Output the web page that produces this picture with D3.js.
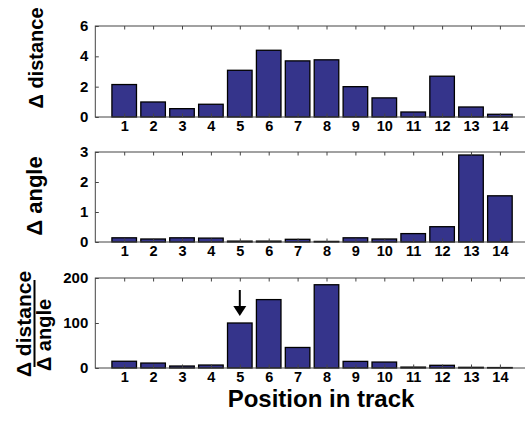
<!DOCTYPE html>
<html>
<head>
<meta charset="utf-8">
<script src="https://cdn.jsdelivr.net/npm/d3@7"></script>
<style>
  body { margin: 0; background: #fff; }
  text { font-family: Arial, "Liberation Sans", Helvetica, sans-serif; font-weight: bold; fill: #000; }
</style>
</head>
<body>
<svg width="525" height="423"></svg>
<script>
// positions along the track
const positions = [1, 2, 3, 4, 5, 6, 7, 8, 9, 10, 11, 12, 13, 14];

// panel values
const deltaDistance = [2.14, 0.99, 0.55, 0.84, 3.08, 4.4, 3.7, 3.77, 2.0, 1.26, 0.33, 2.69, 0.66, 0.18];
const deltaAngle = [0.14, 0.10, 0.14, 0.13, 0.03, 0.03, 0.09, 0.02, 0.14, 0.10, 0.28, 0.51, 2.9, 1.54];
const ratio = [15, 11, 4.4, 6.6, 100, 152, 45.6, 185, 14.7, 13.2, 2, 6, 1.5, 1];

// y tick labels per panel
const distanceTicks = [0, 2, 4, 6];
const angleTicks = [0, 1, 2, 3];
const ratioTicks = [0, 100, 200];

// bar the arrow points at (bottom panel)
const arrowAt = 5;

const barColor = "#35348b";
const axisColor = "#444";

var svg = d3.select("svg");

// x scale shared by all panels, box runs past the right edge of the window
var x = d3.scaleLinear().domain([0, 15]).range([95.3, 528.8]);
const barW = 0.85 * (x(1) - x(0));

const panels = [
  { values: deltaDistance, ticks: distanceTicks, top: 26, bottom: 117 },
  { values: deltaAngle, ticks: angleTicks, top: 152, bottom: 242 },
  { values: ratio, ticks: ratioTicks, top: 278, bottom: 368 }
];

panels.forEach(function (p) {
  var y = d3.scaleLinear()
      .domain([0, d3.max(p.ticks)])
      .range([p.bottom, p.top]);
  p.y = y;

  var g = svg.append("g").attr("class", "panel");

  // bars
  g.selectAll("rect")
    .data(p.values)
    .enter().append("rect")
    .attr("x", (d, i) => x(positions[i]) - barW / 2)
    .attr("y", d => y(d))
    .attr("width", barW)
    .attr("height", d => y(0) - y(d))
    .attr("fill", barColor)
    .attr("stroke", "#000")
    .attr("stroke-width", 1.3);

  // frame
  g.append("rect")
    .attr("x", x(0))
    .attr("y", p.top)
    .attr("width", x(15) - x(0))
    .attr("height", p.bottom - p.top)
    .attr("fill", "none")
    .attr("stroke", axisColor)
    .attr("stroke-width", 1);

  // inward ticks, top and bottom
  var topAxis = d3.axisBottom(x).tickValues(positions).tickSize(3.5).tickFormat("");
  g.append("g").attr("transform", "translate(0," + p.top + ")").call(topAxis)
    .call(s => s.select(".domain").remove())
    .selectAll("line").attr("stroke", axisColor);

  var bottomAxis = d3.axisBottom(x).tickValues(positions).tickSize(0).tickPadding(13.5);
  g.append("g").attr("transform", "translate(0," + p.bottom + ")").call(bottomAxis)
    .call(s => s.select(".domain").remove())
    .selectAll("text")
    .attr("font-size", 14.5)
    .attr("dy", 0)
    .attr("font-family", null);

  var bottomTicks = d3.axisTop(x).tickValues(positions).tickSize(3.5).tickFormat("");
  g.append("g").attr("transform", "translate(0," + p.bottom + ")").call(bottomTicks)
    .call(s => s.select(".domain").remove())
    .selectAll("line").attr("stroke", axisColor);

  // left ticks with labels, right ticks inward
  var leftAxis = d3.axisRight(y).tickValues(p.ticks).tickSize(3.5).tickFormat("");
  g.append("g").attr("transform", "translate(" + x(0) + ",0)").call(leftAxis)
    .call(s => s.select(".domain").remove())
    .selectAll("line").attr("stroke", axisColor);

  g.selectAll(".ylab")
    .data(p.ticks)
    .enter().append("text")
    .attr("class", "ylab")
    .attr("x", x(0) - 7)
    .attr("y", d => y(d) + 5)
    .attr("text-anchor", "end")
    .attr("font-size", 15)
    .text(d => d);

  var rightAxis = d3.axisLeft(y).tickValues(p.ticks).tickSize(3.5).tickFormat("");
  g.append("g").attr("transform", "translate(" + x(15) + ",0)").call(rightAxis)
    .call(s => s.select(".domain").remove())
    .selectAll("line").attr("stroke", axisColor);
});

svg.selectAll(".tick text").attr("font-weight", "bold").attr("fill", "#000");

// y axis titles
svg.append("text")
  .attr("transform", "translate(43,58) rotate(-90)")
  .attr("text-anchor", "middle")
  .attr("font-size", 20)
  .text("\u0394 distance");

svg.append("text")
  .attr("transform", "translate(42,196) rotate(-90)")
  .attr("text-anchor", "middle")
  .attr("font-size", 22)
  .text("\u0394 angle");

// fraction label of the bottom panel
svg.append("text")
  .attr("transform", "translate(31,324) rotate(-90)")
  .attr("text-anchor", "middle")
  .attr("font-size", 21)
  .text("\u0394 distance");
svg.append("line")
  .attr("x1", 34.5).attr("x2", 34.5)
  .attr("y1", 280).attr("y2", 367)
  .attr("stroke", "#000").attr("stroke-width", 2);
svg.append("text")
  .attr("transform", "translate(51,335) rotate(-90)")
  .attr("text-anchor", "middle")
  .attr("font-size", 20)
  .text("\u0394 angle");

// x axis title
svg.append("text")
  .attr("x", 321)
  .attr("y", 406.5)
  .attr("text-anchor", "middle")
  .attr("font-size", 24)
  .text("Position in track");

// arrow above the marked bar
var yr = panels[2].y;
var ax = x(arrowAt);
var tip = yr(ratio[arrowAt - 1]) - 7;
svg.append("line")
  .attr("x1", ax).attr("x2", ax)
  .attr("y1", tip - 26).attr("y2", tip - 9)
  .attr("stroke", "#000").attr("stroke-width", 2);
svg.append("path")
  .attr("d", d3.line()([[ax - 6.5, tip - 10], [ax + 6.5, tip - 10], [ax, tip]]) + "Z")
  .attr("fill", "#000");
</script>
</body>
</html>
